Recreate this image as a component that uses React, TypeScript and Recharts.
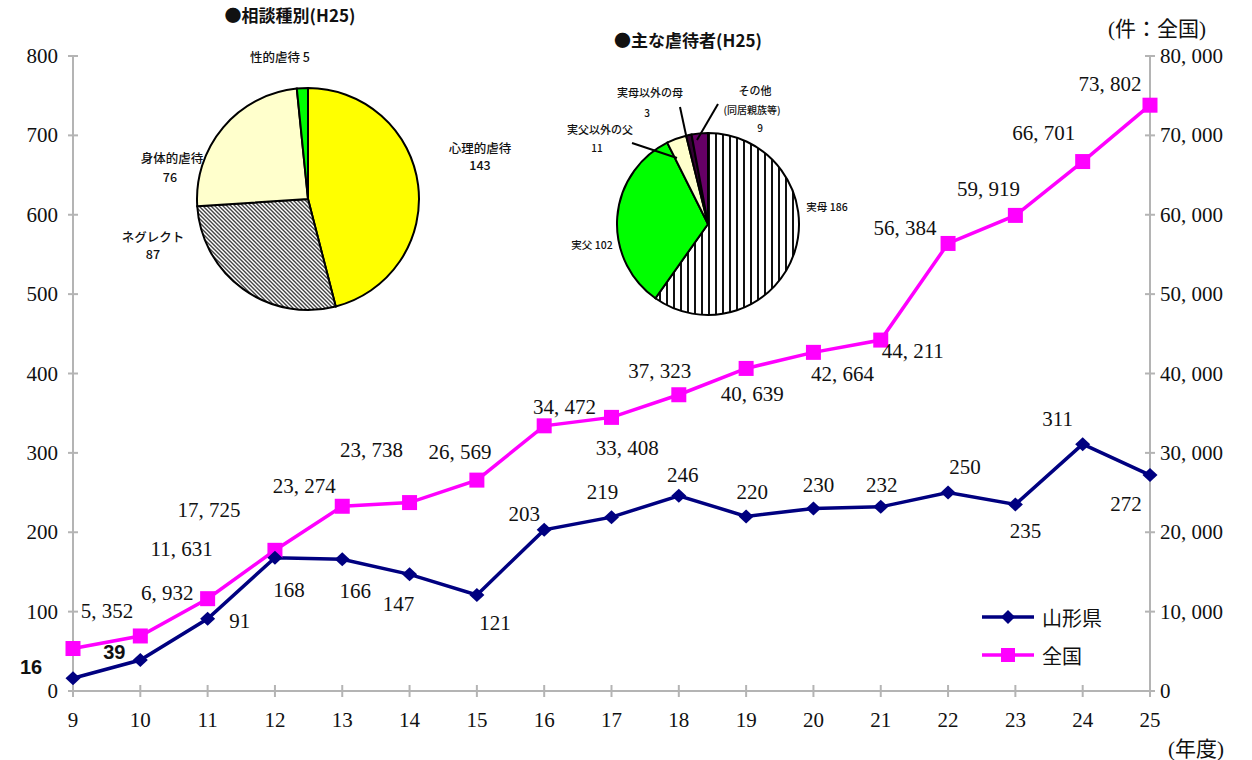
import React from "react"
import { LineChart, Line, XAxis, YAxis, Legend, LabelList, PieChart, Pie, Cell } from "recharts"

// 年度 (平成)
const years = ["9", "10", "11", "12", "13", "14", "15", "16", "17", "18", "19", "20", "21", "22", "23", "24", "25"]
// 山形県 相談件数
const yamagata = [16, 39, 91, 168, 166, 147, 121, 203, 219, 246, 220, 230, 232, 250, 235, 311, 272]
// 全国 相談件数
const national = [5352, 6932, 11631, 17725, 23274, 23738, 26569, 33408, 34472, 37323, 40639, 42664, 44211, 56384, 59919, 66701, 73802]

const leftTicks = [0, 100, 200, 300, 400, 500, 600, 700, 800]
const rightTicks = [0, 10000, 20000, 30000, 40000, 50000, 60000, 70000, 80000]

// 相談種別 (H25)
const consultNames = ["心理的虐待", "ネグレクト", "身体的虐待", "性的虐待"]
const consultValues = [143, 87, 76, 5]
// 主な虐待者 (H25)
const abuserNames = ["実母", "実父", "実父以外の父", "実母以外の母", "その他"]
const abuserValues = [186, 102, 11, 3, 9]

// label nudges (px) relative to each point
const yamaLabelOffset = [
  [-42, -11], [-26, -8], [32, 2], [14, 32], [13, 32], [-11, 30], [18, 28], [-20, -16], [-9, -25],
  [4, -21], [6, -24], [5, -23], [1, -22], [17, -26], [10, 27], [-25, -25], [-24, 29],
]
const natLabelOffset = [
  [34, -38], [27, -43], [-26, -50], [-66, -40], [-38, -20], [-38, -53], [-17, -28], [83, 22], [-47, -10],
  [-19, -24], [6, 26], [29, 22], [32, 11], [-43, -15], [-27, -26], [-39, -29], [-40, -21],
]

const data = years.map((year, i) => ({ year, yamagata: yamagata[i], national: national[i] }))
const consultData = consultNames.map((name, i) => ({ name, value: consultValues[i] }))
const abuserData = abuserNames.map((name, i) => ({ name, value: abuserValues[i] }))

const NAVY = "#000080"
const MAGENTA = "#FF00FF"
const AXIS = "#b4b4b4"
const SERIF = "'Liberation Serif', 'Noto Sans CJK JP', serif"
const SANS = "'Noto Sans CJK JP', 'Liberation Sans', sans-serif"

const fmt = (v: number) => {
  if (v < 1000) return String(v)
  return `${Math.floor(v / 1000)}, ${String(v % 1000).padStart(3, "0")}`
}

const LeftTick = (props: any) => {
  const { x, y, payload } = props
  return (
    <g>
      <line x1={x + 15 - 5} x2={x + 15 + 5} y1={y} y2={y} stroke={AXIS} strokeWidth={2} />
      <text x={x} y={y} textAnchor="end" dominantBaseline="central" fontFamily={SERIF} fontSize={21} fill="#111">
        {payload.value}
      </text>
    </g>
  )
}

const RightTick = (props: any) => {
  const { x, y, payload } = props
  return (
    <g>
      <line x1={x - 10 - 5} x2={x - 10 + 5} y1={y} y2={y} stroke={AXIS} strokeWidth={2} />
      <text x={x} y={y} textAnchor="start" dominantBaseline="central" fontFamily={SERIF} fontSize={21} fill="#111">
        {fmt(payload.value)}
      </text>
    </g>
  )
}

const BottomTick = (props: any) => {
  const { x, y, payload } = props
  return (
    <g>
      <line x1={x} x2={x} y1={y - 6} y2={y + 6} stroke={AXIS} strokeWidth={2} />
      <text x={x} y={y + 29} textAnchor="middle" dominantBaseline="central" fontFamily={SERIF} fontSize={21} fill="#111">
        {payload.value}
      </text>
    </g>
  )
}

const Diamond = (props: any) => {
  const { cx, cy, index } = props
  return (
    <path key={`d-${index}`} d={`M${cx},${cy - 7} L${cx + 7.5},${cy} L${cx},${cy + 7} L${cx - 7.5},${cy} Z`} fill={NAVY} />
  )
}

const Square = (props: any) => {
  const { cx, cy, index } = props
  return <rect key={`s-${index}`} x={cx - 7.5} y={cy - 7.5} width={15} height={15} fill={MAGENTA} />
}

const YamaLabel = (props: any) => {
  const { x, y, value, index } = props
  const [dx, dy] = yamaLabelOffset[index]
  const bold = index < 2
  return (
    <text
      x={x + dx}
      y={y + dy}
      textAnchor="middle"
      dominantBaseline="central"
      fontFamily={bold ? "'Liberation Sans', sans-serif" : SERIF}
      fontWeight={bold ? 700 : 400}
      fontSize={bold ? 20 : 21}
      fill="#111"
    >
      {value}
    </text>
  )
}

const NatLabel = (props: any) => {
  const { x, y, value, index } = props
  const [dx, dy] = natLabelOffset[index]
  return (
    <text x={x + dx} y={y + dy} textAnchor="middle" dominantBaseline="central" fontFamily={SERIF} fontSize={21} fill="#111">
      {fmt(value)}
    </text>
  )
}

const legendItems = [
  { name: "山形県", color: NAVY, marker: "diamond" },
  { name: "全国", color: MAGENTA, marker: "square" },
]

const renderLegend = () => (
  <div style={{ fontFamily: SERIF, fontSize: 20, color: "#111" }}>
    {legendItems.map((item) => (
      <div key={item.name} style={{ display: "flex", alignItems: "center", height: 38 }}>
        <svg width={56} height={20}>
          <line x1={2} x2={54} y1={10} y2={10} stroke={item.color} strokeWidth={3.5} />
          {item.marker === "diamond" ? (
            <path d="M28,3 L35,10 L28,17 L21,10 Z" fill={item.color} />
          ) : (
            <rect x={21} y={3} width={14} height={14} fill={item.color} />
          )}
        </svg>
        <span style={{ marginLeft: 6 }}>{item.name}</span>
      </div>
    ))}
  </div>
)

const consultColors = ["#FFFF00", "url(#hatchDiag)", "#FFFFCC", "#00FF00"]
const abuserColors = ["url(#vStripe)", "#00FF00", "#FFFFCC", "#330033", "#660066"]

const Txt = ({ x, y, size = 12.5, children, weight = 500 }: any) => (
  <div
    style={{
      position: "absolute",
      left: x - 100,
      top: y - size * 0.7,
      width: 200,
      textAlign: "center",
      fontFamily: SANS,
      fontSize: size,
      fontWeight: weight,
      lineHeight: `${size * 1.4}px`,
      color: "#111",
      whiteSpace: "nowrap",
    }}
  >
    {children}
  </div>
)

export default function App() {
  return (
    <div style={{ position: "absolute", left: 0, top: 0, width: 1252, height: 760, background: "#fff" }}>
      <svg width={0} height={0} style={{ position: "absolute" }}>
        <defs>
          <pattern id="hatchDiag" patternUnits="userSpaceOnUse" width={4} height={4}>
            <rect width={4} height={4} fill="#fff" />
            <path d="M-1,-1 L5,5 M3,-1 L5,1 M-1,3 L1,5" stroke="#444" strokeWidth={1.4} />
          </pattern>
          <pattern id="vStripe" patternUnits="userSpaceOnUse" width={7} height={7}>
            <rect width={7} height={7} fill="#fff" />
            <rect x={0} y={0} width={2} height={7} fill="#111" />
          </pattern>
        </defs>
      </svg>

      <LineChart width={1252} height={760} data={data} margin={{ top: 56, right: 0, bottom: 0, left: 0 }}>
        <XAxis
          dataKey="year"
          interval={0}
          height={69}
          axisLine={{ stroke: AXIS, strokeWidth: 2 }}
          tickLine={false}
          tickSize={0}
          tickMargin={0}
          tick={BottomTick}
        />
        <YAxis
          yAxisId="l"
          orientation="left"
          width={73}
          domain={[0, 800]}
          ticks={leftTicks}
          axisLine={{ stroke: AXIS, strokeWidth: 2 }}
          tickLine={false}
          tickSize={0}
          tickMargin={15}
          tick={LeftTick}
        />
        <YAxis
          yAxisId="r"
          orientation="right"
          width={102}
          domain={[0, 80000]}
          ticks={rightTicks}
          axisLine={{ stroke: AXIS, strokeWidth: 2 }}
          tickLine={false}
          tickSize={0}
          tickMargin={10}
          tick={RightTick}
        />
        <Legend
          layout="horizontal"
          align="center"
          verticalAlign="middle"
          content={renderLegend}
          wrapperStyle={{ left: 980, top: 598, width: 160 }}
        />
        <Line
          yAxisId="r"
          dataKey="national"
          name="全国"
          stroke={MAGENTA}
          strokeWidth={3.5}
          dot={Square}
          activeDot={false}
          isAnimationActive={false}
        >
          <LabelList dataKey="national" content={NatLabel} />
        </Line>
        <Line
          yAxisId="l"
          dataKey="yamagata"
          name="山形県"
          stroke={NAVY}
          strokeWidth={3.5}
          dot={Diamond}
          activeDot={false}
          isAnimationActive={false}
        >
          <LabelList dataKey="yamagata" content={YamaLabel} />
        </Line>
      </LineChart>

      {/* 相談種別 */}
      <div style={{ position: "absolute", left: 183, top: 74 }}>
        <PieChart width={240} height={240}>
          <Pie
            data={consultData}
            dataKey="value"
            cx={120}
            cy={120}
            outerRadius={111}
            startAngle={90}
            endAngle={-270}
            stroke="#000"
            strokeWidth={2}
            isAnimationActive={false}
          >
            {consultData.map((d, i) => (
              <Cell key={d.name} fill={consultColors[i]} />
            ))}
          </Pie>
        </PieChart>
      </div>

      {/* 主な虐待者 */}
      <div style={{ position: "absolute", left: 603, top: 119 }}>
        <PieChart width={200} height={200}>
          <Pie
            data={abuserData}
            dataKey="value"
            cx={100}
            cy={100}
            outerRadius={91}
            startAngle={90}
            endAngle={-270}
            stroke="#000"
            strokeWidth={2}
            isAnimationActive={false}
          >
            {abuserData.map((d, i) => (
              <Cell key={d.name} fill={abuserColors[i]} />
            ))}
          </Pie>
        </PieChart>
      </div>

      <svg width={1252} height={760} style={{ position: "absolute", left: 0, top: 0, pointerEvents: "none" }}>
        <line x1={680} y1={107} x2={686} y2={135} stroke="#000" strokeWidth={2} />
        <line x1={718} y1={104} x2={697} y2={140} stroke="#000" strokeWidth={2} />
        <line x1={632} y1={143} x2={677} y2={158} stroke="#000" strokeWidth={2} />
      </svg>

      <Txt x={290} y={15} size={17} weight={600}>●相談種別(H25)</Txt>
      <Txt x={688} y={40} size={17} weight={600}>●主な虐待者(H25)</Txt>

      <Txt x={280} y={57}>{`${consultNames[3]} ${consultValues[3]}`}</Txt>
      <Txt x={172} y={158}>{consultNames[2]}</Txt>
      <Txt x={170} y={177}>{consultValues[2]}</Txt>
      <Txt x={153} y={237}>{consultNames[1]}</Txt>
      <Txt x={153} y={254}>{consultValues[1]}</Txt>
      <Txt x={480} y={148}>{consultNames[0]}</Txt>
      <Txt x={480} y={165}>{consultValues[0]}</Txt>

      <Txt x={650} y={93} size={11}>{abuserNames[3]}</Txt>
      <Txt x={647} y={113} size={10}>{abuserValues[3]}</Txt>
      <Txt x={600} y={130} size={11}>{abuserNames[2]}</Txt>
      <Txt x={597} y={148} size={10}>{abuserValues[2]}</Txt>
      <Txt x={755} y={91} size={11}>{abuserNames[4]}</Txt>
      <Txt x={752} y={110} size={10}>(同居親族等)</Txt>
      <Txt x={760} y={128} size={10}>{abuserValues[4]}</Txt>
      <Txt x={592} y={245} size={10.5}>{`${abuserNames[1]} ${abuserValues[1]}`}</Txt>
      <Txt x={827} y={207} size={10.5}>{`${abuserNames[0]} ${abuserValues[0]}`}</Txt>

      <div style={{ position: "absolute", left: 1108, top: 12, fontFamily: SERIF, fontSize: 21, color: "#111" }}>
        (件：全国)
      </div>
      <div style={{ position: "absolute", left: 1168, top: 732, fontFamily: SERIF, fontSize: 21, color: "#111" }}>
        (年度)
      </div>
    </div>
  )
}
